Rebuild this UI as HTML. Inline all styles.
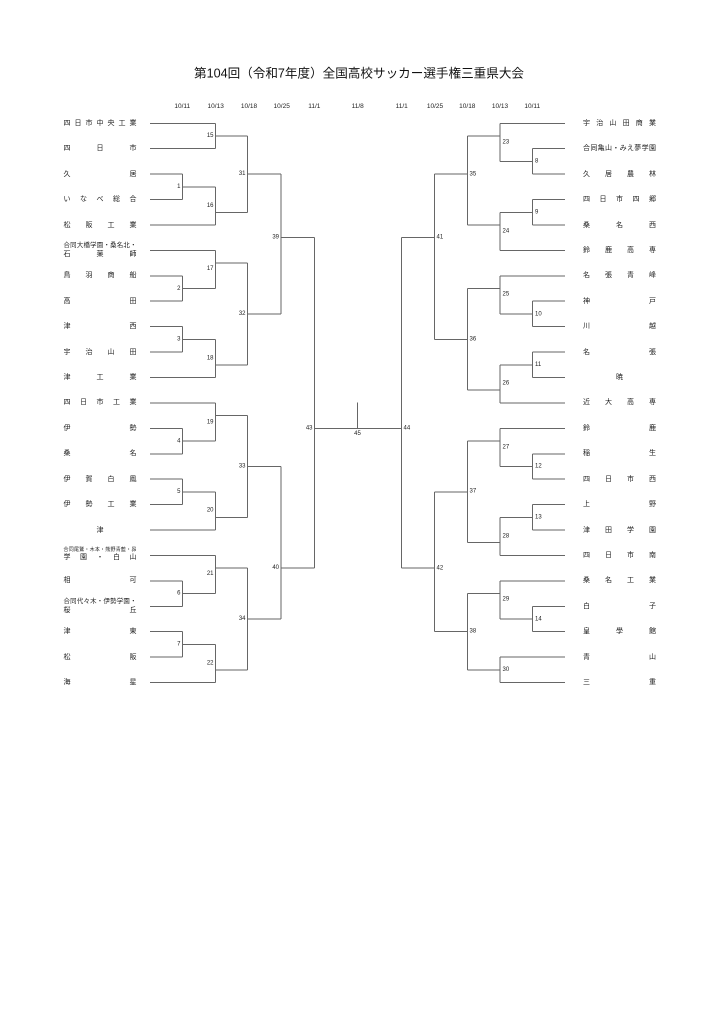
<!DOCTYPE html>
<html><head><meta charset="utf-8"><style>
html,body{margin:0;padding:0;background:#fff;}
#w{position:relative;width:724px;height:1024px;overflow:hidden;background:#fff;}
svg{position:absolute;left:0;top:0;}
.n{position:absolute;width:73px;height:9px;line-height:9px;font-size:7px;font-family:"Liberation Sans","Noto Sans CJK JP",sans-serif;color:#222;display:flex;justify-content:space-between;white-space:nowrap;}
.L{left:63.5px;}
.R{left:583px;}
.c{justify-content:center;}
.s{font-size:6.4px;}
.t{font-size:5px;}
</style></head><body><div id="w">
<svg width="724" height="1024" viewBox="0 0 724 1024">
<text x="194" y="73.3" font-size="12.5" dominant-baseline="central" textLength="330" lengthAdjust="spacingAndGlyphs" font-family="Liberation Sans, Noto Sans CJK JP, sans-serif" fill="#111">第104回（令和7年度）全国高校サッカー選手権三重県大会</text>
<g font-family="Liberation Sans, sans-serif" font-size="6.5" fill="#222" text-anchor="middle" dominant-baseline="central">
<text x="182.3" y="106.7">10/11</text><text x="215.7" y="106.7">10/13</text><text x="249" y="106.7">10/18</text><text x="281.7" y="106.7">10/25</text><text x="314.3" y="106.7">11/1</text><text x="357.7" y="106.7">11/8</text>
<text x="401.7" y="106.7">11/1</text><text x="435" y="106.7">10/25</text><text x="467.3" y="106.7">10/18</text><text x="500" y="106.7">10/13</text><text x="532.3" y="106.7">10/11</text>
</g>
<g fill="none" stroke="#666" stroke-width="1" shape-rendering="crispEdges">
<path d="M150 123.3H215.3M150 148.7H215.3M150 174.1H182.5M150 199.6H182.5M150 225H215.3M150 250.4H215.3M150 275.8H182.5M150 301.2H182.5M150 326.7H182.5M150 352.1H182.5M150 377.5H215.3M150 402.9H215.3M150 428.3H182.5M150 453.8H182.5M150 479.2H182.5M150 504.6H182.5M150 530H215.3M150 555.4H215.3M150 580.9H182.5M150 606.3H182.5M150 631.7H182.5M150 657.1H182.5M150 682.5H215.3"/>
<path d="M215.3 123.3V148.7M215.3 136H247.5M182.5 174.1V199.6M182.5 186.9H215.3M215.3 186.9V225M215.3 212.3H247.5M247.5 136V212.3M247.5 174.1H281M182.5 275.8V301.2M182.5 288.5H215.3M215.3 250.4V288.5M215.3 263.1H247.5M182.5 326.7V352.1M182.5 339.4H215.3M215.3 339.4V377.5M215.3 364.8H247.5M247.5 263.1V364.8M247.5 314H281M281 174.1V314M281 237.7H314.3M182.5 428.3V453.8M182.5 441.1H215.3M215.3 402.9V441.1M215.3 415.6H247.5M182.5 479.2V504.6M182.5 491.9H215.3M215.3 491.9V530M215.3 517.3H247.5M247.5 415.6V517.3M247.5 466.5H281M182.5 580.9V606.3M182.5 593.6H215.3M215.3 555.4V593.6M215.3 568.2H247.5M182.5 631.7V657.1M182.5 644.4H215.3M215.3 644.4V682.5M215.3 669.8H247.5M247.5 568.2V669.8M247.5 619H281M281 466.5V619M281 568.2H314.3M314.3 237.7V568.2M314.3 428.3H401.5M357.5 402.7V428.3"/>
<path d="M500 123.3H565M532.7 148.7H565M532.7 174.1H565M532.7 199.6H565M532.7 225H565M500 250.4H565M500 275.8H565M532.7 301.2H565M532.7 326.7H565M532.7 352.1H565M532.7 377.5H565M500 402.9H565M500 428.3H565M532.7 453.8H565M532.7 479.2H565M532.7 504.6H565M532.7 530H565M500 555.4H565M500 580.9H565M532.7 606.3H565M532.7 631.7H565M500 657.1H565M500 682.5H565"/>
<path d="M532.7 148.7V174.1M500 161.4H532.7M500 123.3V161.4M467.3 136H500M532.7 199.6V225M500 212.3H532.7M500 212.3V250.4M467.3 225H500M467.3 136V225M434.3 174.1H467.3M532.7 301.2V326.7M500 314H532.7M500 275.8V314M467.3 288.5H500M532.7 352.1V377.5M500 364.8H532.7M500 364.8V402.9M467.3 390.2H500M467.3 288.5V390.2M434.3 339.4H467.3M434.3 174.1V339.4M401.5 237.7H434.3M532.7 453.8V479.2M500 466.5H532.7M500 428.3V466.5M467.3 441.1H500M532.7 504.6V530M500 517.3H532.7M500 517.3V555.4M467.3 542.7H500M467.3 441.1V542.7M434.3 491.9H467.3M532.7 606.3V631.7M500 619H532.7M500 580.9V619M467.3 593.6H500M500 657.1V682.5M467.3 669.8H500M467.3 593.6V669.8M434.3 631.7H467.3M434.3 491.9V631.7M401.5 568.2H434.3M401.5 237.7V568.2"/>
</g>
<g font-family="Liberation Sans, sans-serif" font-size="6" fill="#222" dominant-baseline="central">
<g text-anchor="end">
<text x="213.5" y="136">15</text><text x="180.5" y="186.9">1</text><text x="213.5" y="206">16</text><text x="245.5" y="174.1">31</text><text x="279" y="237.7">39</text>
<text x="213.5" y="269">17</text><text x="180.5" y="289">2</text><text x="245.5" y="314">32</text><text x="180.5" y="339.4">3</text><text x="213.5" y="358.3">18</text>
<text x="213.5" y="422.3">19</text><text x="180.5" y="441.7">4</text><text x="245.5" y="466.5">33</text><text x="180.5" y="491.9">5</text><text x="213.5" y="510.7">20</text>
<text x="312.5" y="428.3">43</text><text x="213.5" y="574">21</text><text x="180.5" y="593.6">6</text><text x="245.5" y="619">34</text><text x="180.5" y="644.7">7</text><text x="213.5" y="663.3">22</text><text x="279" y="568.2">40</text>
</g>
<g text-anchor="start">
<text x="502.5" y="142.3">23</text><text x="535" y="161.7">8</text><text x="469.5" y="174.3">35</text><text x="535" y="212.3">9</text><text x="502.5" y="231.7">24</text><text x="436.5" y="237.5">41</text>
<text x="502.5" y="294.7">25</text><text x="535" y="314.3">10</text><text x="469.5" y="339.7">36</text><text x="535" y="365">11</text><text x="502.5" y="383.7">26</text>
<text x="403.5" y="428.3">44</text><text x="502.5" y="447.7">27</text><text x="535" y="466.7">12</text><text x="469.5" y="491.7">37</text><text x="535" y="517.3">13</text><text x="502.5" y="536.7">28</text>
<text x="436.5" y="568.3">42</text><text x="502.5" y="599.7">29</text><text x="535" y="619.3">14</text><text x="469.5" y="631.7">38</text><text x="502.5" y="670">30</text>
</g>
<text x="357.5" y="434" text-anchor="middle">45</text>
</g>
</svg>

<div class="n L" style="top:118.8px"><span>四</span><span>日</span><span>市</span><span>中</span><span>央</span><span>工</span><span>業</span></div>
<div class="n L" style="top:144.2px"><span>四</span><span>日</span><span>市</span></div>
<div class="n L" style="top:169.6px"><span>久</span><span>居</span></div>
<div class="n L" style="top:195.1px"><span>い</span><span>な</span><span>べ</span><span>総</span><span>合</span></div>
<div class="n L" style="top:220.5px"><span>松</span><span>阪</span><span>工</span><span>業</span></div>
<div class="n L s" style="top:241.2px"><span>合</span><span>同</span><span>大</span><span>橋</span><span>学</span><span>園</span><span>・</span><span>桑</span><span>名</span><span>北</span><span>・</span></div>
<div class="n L" style="top:249.5px"><span>石</span><span>薬</span><span>師</span></div>
<div class="n L" style="top:271.3px"><span>鳥</span><span>羽</span><span>商</span><span>船</span></div>
<div class="n L" style="top:296.7px"><span>高</span><span>田</span></div>
<div class="n L" style="top:322.2px"><span>津</span><span>西</span></div>
<div class="n L" style="top:347.6px"><span>宇</span><span>治</span><span>山</span><span>田</span></div>
<div class="n L" style="top:373px"><span>津</span><span>工</span><span>業</span></div>
<div class="n L" style="top:398.4px"><span>四</span><span>日</span><span>市</span><span>工</span><span>業</span></div>
<div class="n L" style="top:423.8px"><span>伊</span><span>勢</span></div>
<div class="n L" style="top:449.3px"><span>桑</span><span>名</span></div>
<div class="n L" style="top:474.7px"><span>伊</span><span>賀</span><span>白</span><span>鳳</span></div>
<div class="n L" style="top:500.1px"><span>伊</span><span>勢</span><span>工</span><span>業</span></div>
<div class="n L c" style="top:525.5px"><span>津</span></div>
<div class="n L t" style="top:546.2px"><span>合</span><span>同</span><span>尾</span><span>鷲</span><span>・</span><span>木</span><span>本</span><span>・</span><span>熊</span><span>野</span><span>青</span><span>藍</span><span>・</span><span>昴</span></div>
<div class="n L" style="top:553.3px"><span>学</span><span>園</span><span>・</span><span>白</span><span>山</span></div>
<div class="n L" style="top:576.4px"><span>相</span><span>可</span></div>
<div class="n L s" style="top:597.2px"><span>合</span><span>同</span><span>代</span><span>々</span><span>木</span><span>・</span><span>伊</span><span>勢</span><span>学</span><span>園</span><span>・</span></div>
<div class="n L" style="top:605.5px"><span>桜</span><span>丘</span></div>
<div class="n L" style="top:627.2px"><span>津</span><span>東</span></div>
<div class="n L" style="top:652.6px"><span>松</span><span>阪</span></div>
<div class="n L" style="top:678px"><span>海</span><span>星</span></div>

<div class="n R" style="top:118.8px"><span>宇</span><span>治</span><span>山</span><span>田</span><span>商</span><span>業</span></div>
<div class="n R" style="top:144.2px"><span>合</span><span>同</span><span>亀</span><span>山</span><span>・</span><span>み</span><span>え</span><span>夢</span><span>学</span><span>園</span></div>
<div class="n R" style="top:169.6px"><span>久</span><span>居</span><span>農</span><span>林</span></div>
<div class="n R" style="top:195.1px"><span>四</span><span>日</span><span>市</span><span>四</span><span>郷</span></div>
<div class="n R" style="top:220.5px"><span>桑</span><span>名</span><span>西</span></div>
<div class="n R" style="top:245.9px"><span>鈴</span><span>鹿</span><span>高</span><span>専</span></div>
<div class="n R" style="top:271.3px"><span>名</span><span>張</span><span>青</span><span>峰</span></div>
<div class="n R" style="top:296.7px"><span>神</span><span>戸</span></div>
<div class="n R" style="top:322.2px"><span>川</span><span>越</span></div>
<div class="n R" style="top:347.6px"><span>名</span><span>張</span></div>
<div class="n R c" style="top:373px"><span>暁</span></div>
<div class="n R" style="top:398.4px"><span>近</span><span>大</span><span>高</span><span>専</span></div>
<div class="n R" style="top:423.8px"><span>鈴</span><span>鹿</span></div>
<div class="n R" style="top:449.3px"><span>稲</span><span>生</span></div>
<div class="n R" style="top:474.7px"><span>四</span><span>日</span><span>市</span><span>西</span></div>
<div class="n R" style="top:500.1px"><span>上</span><span>野</span></div>
<div class="n R" style="top:525.5px"><span>津</span><span>田</span><span>学</span><span>園</span></div>
<div class="n R" style="top:550.9px"><span>四</span><span>日</span><span>市</span><span>南</span></div>
<div class="n R" style="top:576.4px"><span>桑</span><span>名</span><span>工</span><span>業</span></div>
<div class="n R" style="top:601.8px"><span>白</span><span>子</span></div>
<div class="n R" style="top:627.2px"><span>皇</span><span>學</span><span>館</span></div>
<div class="n R" style="top:652.6px"><span>青</span><span>山</span></div>
<div class="n R" style="top:678px"><span>三</span><span>重</span></div>
</div></body></html>
